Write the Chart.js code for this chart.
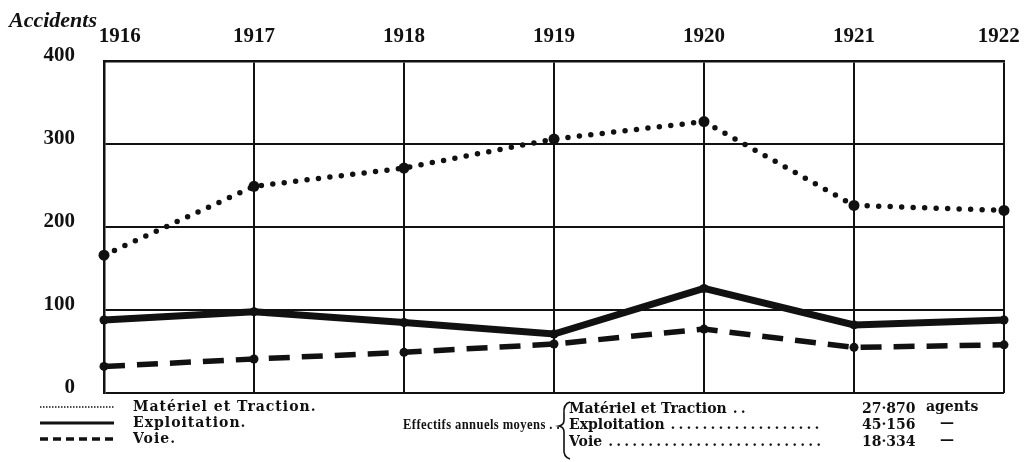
<!DOCTYPE html>
<html>
<head>
<meta charset="utf-8">
<script src="https://cdn.jsdelivr.net/npm/chart.js@4.4.1/dist/chart.umd.min.js"></script>
<style>
    html, body { margin: 0; padding: 0; background: #fff; }
    #wrap { width: 1024px; height: 462px; }
</style>
</head>
<body>
<div id="wrap"><canvas id="accidentsChart" width="1024" height="462"></canvas></div>
<script>
// Years on the top axis
const years = ['1916', '1917', '1918', '1919', '1920', '1921', '1922'];

// Accidents per service
const materielTraction = [166, 249, 271, 306, 327, 226, 220];
const exploitation = [88, 98, 85, 71, 126, 82, 88];
const voie = [32, 41, 49, 59, 77, 55, 58];

const yTicks = [0, 100, 200, 300, 400];
const yAxisTitle = 'Accidents';
const seriesNames = ['Matériel et Traction.', 'Exploitation.', 'Voie.'];

// Average yearly staff
const effectifsTitle = 'Effectifs annuels moyens . .';
const effectifsLabels = ['Matériel et Traction', 'Exploitation', 'Voie'];
const effectifsValues = ['27·870', '45·156', '18·334'];
const effectifsUnits = ['agents', '—', '—'];

const ink = '#111';
const serif = '"Liberation Serif", "DejaVu Serif", serif';
const smallFont = 'bold 14px "DejaVu Serif", serif';

// Title, legend and the staff table drawn under the chart
const platePlugin = {
    id: 'plate',
    afterDraw(chart) {
        const ctx = chart.ctx;
        ctx.save();
        ctx.fillStyle = ink;
        ctx.strokeStyle = ink;

        // y axis title
        ctx.font = 'italic bold 22px ' + serif;
        ctx.textBaseline = 'alphabetic';
        ctx.fillText(yAxisTitle, 9, 27);

        // left legend: line samples
        const rows = [407, 423, 439];
        ctx.lineCap = 'butt';
        ctx.lineWidth = 1.5;
        ctx.setLineDash([1.5, 1.5]);
        ctx.beginPath(); ctx.moveTo(40, rows[0]); ctx.lineTo(114, rows[0]); ctx.stroke();
        ctx.lineWidth = 3;
        ctx.setLineDash([]);
        ctx.beginPath(); ctx.moveTo(40, rows[1]); ctx.lineTo(114, rows[1]); ctx.stroke();
        ctx.lineWidth = 3.5;
        ctx.setLineDash([8, 5]);
        ctx.beginPath(); ctx.moveTo(40, rows[2]); ctx.lineTo(114, rows[2]); ctx.stroke();
        ctx.setLineDash([]);

        ctx.font = smallFont;
        ctx.textBaseline = 'middle';
        ctx.letterSpacing = '1px';
        seriesNames.forEach((name, i) => ctx.fillText(name, 133, rows[i]));
        ctx.letterSpacing = '0px';

        // staff table
        ctx.font = 'bold 15px ' + serif;
        ctx.letterSpacing = '0.5px';
        ctx.fillText(effectifsTitle, 403, 425, 157);
        ctx.letterSpacing = '0px';
        ctx.font = smallFont;

        // brace
        ctx.lineWidth = 1.6;
        ctx.beginPath();
        ctx.moveTo(570, 402);
        ctx.quadraticCurveTo(563, 404, 564, 414);
        ctx.lineTo(564, 420);
        ctx.quadraticCurveTo(564, 425, 559, 426);
        ctx.quadraticCurveTo(564, 427, 564, 432);
        ctx.lineTo(564, 448);
        ctx.quadraticCurveTo(563, 457, 570, 459);
        ctx.stroke();

        const tRows = [409, 425, 442];
        const leaderEnd = [748, 822, 822];
        effectifsLabels.forEach((label, i) => {
            ctx.fillText(label, 569, tRows[i]);
            let x = 569 + ctx.measureText(label).width + 6;
            while (x < leaderEnd[i]) {
                ctx.fillText('.', x, tRows[i]);
                x += 8;
            }
            ctx.fillText(effectifsValues[i], 862, tRows[i]);
            ctx.fillText(effectifsUnits[i], effectifsUnits[i] === 'agents' ? 926 : 940, tRows[i] - 2);
        });
        ctx.restore();
    }
};

const pointStyle = {
    pointBackgroundColor: ink,
    pointBorderColor: ink,
    pointBorderWidth: 0,
    pointHoverRadius: 5
};

new Chart(document.getElementById('accidentsChart').getContext('2d'), {
    type: 'line',
    data: {
        labels: years,
        datasets: [
            {
                label: seriesNames[0],
                data: materielTraction,
                borderColor: ink,
                borderWidth: 5.5,
                borderDash: [0, 11.5],
                borderCapStyle: 'round',
                pointRadius: 5.5,
                ...pointStyle
            },
            {
                label: seriesNames[1],
                data: exploitation,
                borderColor: ink,
                borderWidth: 7,
                pointRadius: 4.5,
                ...pointStyle
            },
            {
                label: seriesNames[2],
                data: voie,
                borderColor: ink,
                borderWidth: 5.5,
                borderDash: [21, 12],
                pointRadius: 4.5,
                ...pointStyle
            }
        ]
    },
    options: {
        responsive: false,
        animation: false,
        clip: false,
        tension: 0,
        layout: { padding: { left: 0, right: 20, top: 0, bottom: 69 } },
        plugins: {
            legend: { display: false },
            tooltip: { enabled: false }
        },
        scales: {
            x: {
                position: 'top',
                offset: false,
                grid: { color: ink, lineWidth: 2, drawTicks: false, offset: false },
                border: { color: ink, width: 2.5 },
                ticks: {
                    color: ink,
                    padding: 12,
                    maxRotation: 0,
                    font: { family: serif, size: 21, weight: 'bold' },
                    // first and last years sit a little inside their lines on the plate
                    callback: function (value, index, ticks) {
                        const label = this.getLabelForValue(value);
                        if (index === 0) return '\u2007\u2007\u2007' + label;
                        if (index === ticks.length - 1) return label + '\u2007';
                        return label;
                    }
                },
                afterFit: function (scale) {
                    scale.height = 61;
                    scale.paddingLeft = 0;
                    scale.paddingRight = 0;
                }
            },
            y: {
                min: 0,
                max: 400,
                afterBuildTicks: function (scale) {
                    scale.ticks = yTicks.map(v => ({ value: v }));
                },
                grid: { color: ink, lineWidth: 2, drawTicks: false },
                border: { color: ink, width: 2.5 },
                ticks: {
                    color: ink,
                    padding: 29,
                    labelOffset: -5,
                    font: { family: serif, size: 21, weight: 'bold' }
                },
                afterFit: function (scale) { scale.width = 104; }
            }
        }
    },
    plugins: [platePlugin]
});
</script>
</body>
</html>
